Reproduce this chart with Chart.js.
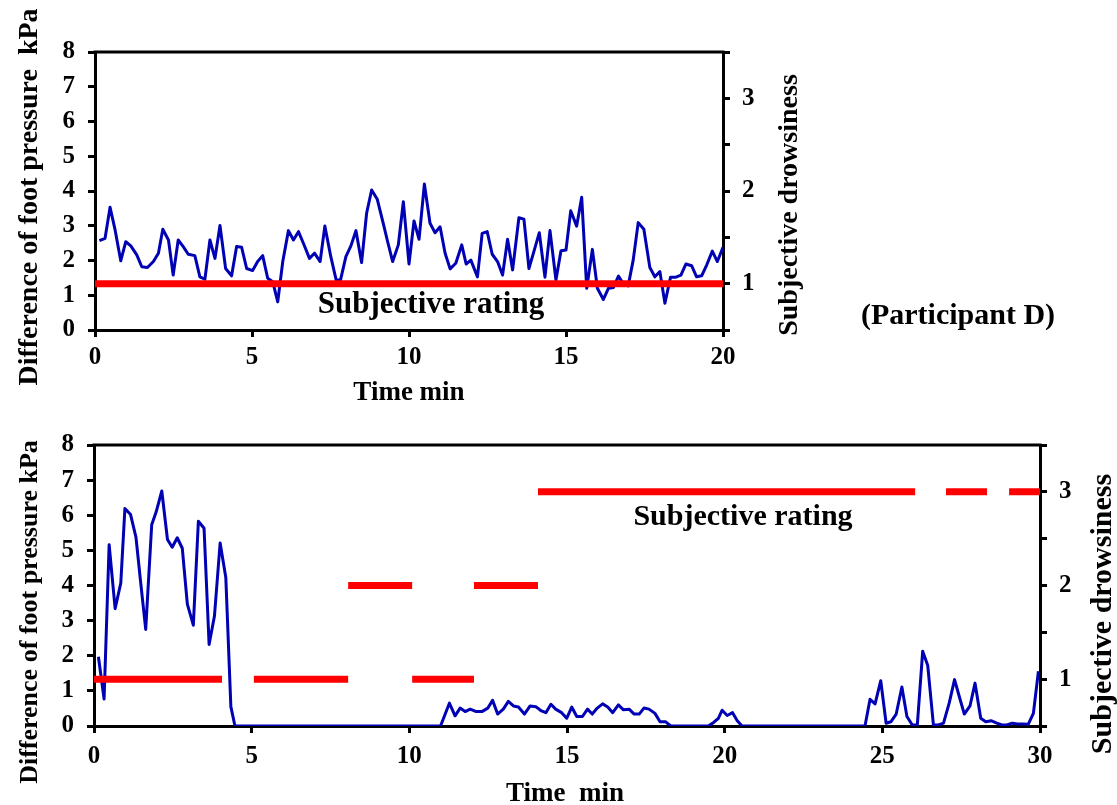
<!DOCTYPE html>
<html>
<head>
<meta charset="utf-8">
<title>Foot pressure and subjective drowsiness (Participant D)</title>
<script src="https://cdn.jsdelivr.net/npm/chart.js@4.4.1/dist/chart.umd.min.js"></script>
<style>
  html, body { margin: 0; padding: 0; background: #ffffff; }
  #wrap { position: relative; width: 1117px; height: 805px; overflow: hidden; }
  canvas { position: absolute; left: 0; }
</style>
</head>
<body>
<div id="wrap">
  <canvas id="upper" width="1117" height="405" style="top:0"></canvas>
  <canvas id="lower" width="1117" height="400" style="top:405px"></canvas>
</div>
<script>
// ---- Upper panel: first 20 min ----
const upperTime = [
  0.14, 0.32, 0.48, 0.64, 0.82, 0.98, 1.14, 1.33, 1.49, 1.67, 1.86, 2.02, 2.16, 2.34, 2.49, 2.65,
  2.81, 2.97, 3.18, 3.34, 3.50, 3.66, 3.82, 3.98, 4.16, 4.35, 4.51, 4.67, 4.83, 5.02, 5.18, 5.34,
  5.50, 5.66, 5.82, 5.98, 6.16, 6.32, 6.48, 6.64, 6.83, 6.99, 7.17, 7.32, 7.51, 7.68, 7.82, 7.99,
  8.15, 8.31, 8.49, 8.65, 8.81, 8.99, 9.18, 9.32, 9.48, 9.66, 9.82, 10.00, 10.16, 10.32, 10.49,
  10.67, 10.83, 10.99, 11.15, 11.31, 11.49, 11.68, 11.82, 11.97, 12.18, 12.33, 12.49, 12.65,
  12.82, 12.98, 13.14, 13.30, 13.50, 13.66, 13.82, 13.99, 14.15, 14.33, 14.49, 14.68, 14.84,
  15.00, 15.15, 15.34, 15.50, 15.66, 15.84, 16.00, 16.19, 16.35, 16.51, 16.67, 16.83, 16.98,
  17.14, 17.30, 17.48, 17.67, 17.83, 17.99, 18.15, 18.33, 18.50, 18.66, 18.82, 19.00, 19.16,
  19.32, 19.48, 19.66, 19.82, 20.00
];
const upperPressure = [
  2.57, 2.64, 3.53, 2.88, 1.99, 2.54, 2.42, 2.16, 1.82, 1.80, 1.97, 2.21, 2.90, 2.59, 1.58, 2.59,
  2.40, 2.18, 2.14, 1.53, 1.46, 2.59, 2.06, 3.01, 1.77, 1.56, 2.40, 2.38, 1.77, 1.71, 1.97, 2.14,
  1.49, 1.39, 0.81, 1.97, 2.86, 2.59, 2.83, 2.49, 2.06, 2.21, 1.97, 2.99, 2.11, 1.44, 1.44, 2.11,
  2.42, 2.86, 1.94, 3.36, 4.03, 3.76, 3.07, 2.54, 1.97, 2.45, 3.69, 1.90, 3.14, 2.61, 4.20,
  3.07, 2.80, 2.97, 2.21, 1.76, 1.92, 2.45, 1.90, 2.01, 1.53, 2.78, 2.83, 2.18,
  1.97, 1.58, 2.61, 1.73, 3.23, 3.19, 1.77, 2.30, 2.80, 1.52, 2.86, 1.44, 2.28,
  2.30, 3.43, 2.99, 3.82, 1.20, 2.32, 1.20, 0.88, 1.20, 1.22, 1.55, 1.32, 1.27,
  2.01, 3.09, 2.90, 1.80, 1.53, 1.68, 0.77, 1.52, 1.52, 1.58, 1.90, 1.85, 1.53,
  1.56, 1.87, 2.27, 1.97, 2.38
];
// [start min, end min, rating]
const upperRating = [[0, 20, 1]];

// ---- Lower panel: 30 min ----
const lowerTime = [
  0.14, 0.32, 0.48, 0.67, 0.85, 0.98, 1.16, 1.33, 1.48, 1.64, 1.83, 1.97, 2.15, 2.33, 2.48, 2.64,
  2.80, 2.96, 3.15, 3.31, 3.49, 3.65, 3.82, 4.00, 4.18, 4.34, 4.47,
  10.99, 11.27, 11.45, 11.61, 11.77, 11.93, 12.12, 12.30, 12.49, 12.64, 12.80, 12.98, 13.14,
  13.30, 13.46, 13.65, 13.83, 14.01, 14.17, 14.33, 14.49, 14.64, 14.83, 14.99, 15.15, 15.31,
  15.49, 15.65, 15.80, 15.96, 16.13, 16.29, 16.45, 16.63, 16.79, 16.97, 17.13, 17.29, 17.44,
  17.60, 17.79, 17.95, 18.13, 18.29,
  19.48, 19.65, 19.80, 19.92, 20.08, 20.25, 20.40, 20.55,
  24.45, 24.61, 24.77, 24.95, 25.12, 25.27, 25.44, 25.62, 25.78, 25.95, 26.11, 26.28, 26.44,
  26.62, 26.78, 26.94, 27.12, 27.29, 27.44, 27.60, 27.78, 27.94, 28.12, 28.28, 28.45, 28.61,
  28.79, 28.95, 29.12, 29.28, 29.45, 29.63, 29.79, 29.95
];
const lowerPressure = [
  1.97, 0.77, 5.16, 3.34, 4.07, 6.19, 6.02, 5.38, 4.09, 2.75, 5.73, 6.09, 6.69, 5.31, 5.09, 5.36,
  5.06, 3.47, 2.87, 5.83, 5.63, 2.32, 3.13, 5.21, 4.23, 0.55, 0,
  0, 0.65, 0.29, 0.51, 0.41, 0.48, 0.41, 0.41, 0.51, 0.73, 0.34, 0.48, 0.70,
  0.57, 0.54, 0.34, 0.57, 0.55, 0.44, 0.38, 0.62, 0.48, 0.38, 0.22, 0.54, 0.27,
  0.27, 0.48, 0.34, 0.51, 0.63, 0.54, 0.38, 0.60, 0.46, 0.48, 0.34, 0.34, 0.51,
  0.48, 0.36, 0.12, 0.12, 0,
  0, 0.10, 0.22, 0.45, 0.30, 0.38, 0.15, 0,
  0, 0.76, 0.63, 1.29, 0.08, 0.12, 0.34, 1.11, 0.27, 0.03, 0.03, 2.13, 1.72,
  0.03, 0.03, 0.08, 0.65, 1.32, 0.84, 0.34, 0.57, 1.22, 0.22, 0.12, 0.15, 0.09,
  0.03, 0.03, 0.08, 0.06, 0.06, 0.05, 0.36, 1.56
];
const lowerRating = [
  [0, 4.06, 1], [5.07, 8.06, 1], [8.06, 10.09, 2], [10.09, 12.05, 1],
  [12.05, 14.08, 2], [14.08, 26.04, 3], [27.02, 28.32, 3], [29.02, 30, 3]
];

const leftTicks = [0, 1, 2, 3, 4, 5, 6, 7, 8];
const rightTickLabels = [1, 2, 3];

// ---- drawing helpers ----
const SERIF = "'Liberation Serif', 'Times New Roman', serif";
const tickFont = { family: SERIF, size: 25, weight: 'bold' };

function toPoints(xs, ys) {
  return xs.map((x, i) => ({ x: x, y: ys[i] }));
}

// rating steps drawn as separate horizontal pieces, broken by null points
function stepPoints(segments) {
  const pts = [];
  segments.forEach(([a, b, v], i) => {
    if (i > 0) pts.push({ x: a, y: null });
    pts.push({ x: a, y: v }, { x: b, y: v });
  });
  return pts;
}

// top edge of the plot frame
const framePlugin = {
  id: 'frameTop',
  beforeDatasetsDraw(chart) {
    const { ctx, chartArea: a } = chart;
    ctx.save();
    ctx.strokeStyle = '#000';
    ctx.lineWidth = 3;
    ctx.beginPath();
    ctx.moveTo(a.left - 1.5, a.top);
    ctx.lineTo(a.right + 1.5, a.top);
    ctx.stroke();
    ctx.restore();
  }
};

// axis titles and captions
const textPlugin = {
  id: 'figureText',
  afterDraw(chart, args, opts) {
    const ctx = chart.ctx;
    (opts.items || []).forEach(it => {
      ctx.save();
      ctx.translate(it.x, it.y);
      if (it.rotate) ctx.rotate(it.rotate);
      ctx.font = 'bold ' + it.size + 'px ' + SERIF;
      ctx.fillStyle = '#000';
      ctx.textAlign = 'center';
      ctx.textBaseline = 'middle';
      ctx.fillText(it.text, 0, 0);
      ctx.restore();
    });
  }
};

function axisCommon() {
  return {
    grid: { drawOnChartArea: false, drawTicks: true, tickLength: 7, lineWidth: 3, color: '#000' },
    border: { display: true, color: '#000', width: 3 }
  };
}

function buildPanel(canvasId, cfg) {
  const xc = axisCommon(), yc = axisCommon(), rc = axisCommon();
  return new Chart(document.getElementById(canvasId), {
    type: 'line',
    data: {
      datasets: [
        {
          label: 'Subjective rating',
          data: stepPoints(cfg.rating),
          yAxisID: 'y1',
          borderColor: '#ff0000',
          borderWidth: 7,
          borderCapStyle: 'butt',
          pointRadius: 0,
          tension: 0,
          spanGaps: false
        },
        {
          label: 'Difference of foot pressure',
          data: toPoints(cfg.time, cfg.pressure),
          yAxisID: 'y',
          borderColor: '#0000b4',
          borderWidth: 3,
          pointRadius: 0,
          tension: 0,
          borderJoinStyle: 'round'
        }
      ]
    },
    options: {
      responsive: false,
      animation: false,
      events: [],
      layout: { padding: { top: cfg.padTop, left: 0, right: cfg.padRight, bottom: 0 } },
      plugins: {
        legend: { display: false },
        tooltip: { enabled: false },
        figureText: { items: cfg.texts }
      },
      scales: {
        x: {
          type: 'linear', position: 'bottom', min: 0, max: cfg.xMax,
          ticks: { stepSize: 5, font: tickFont, color: '#000', padding: cfg.xPad, maxRotation: 0, autoSkip: false },
          grid: xc.grid, border: xc.border,
          afterFit(s) { s.height = cfg.xAxisHeight; }
        },
        y: {
          type: 'linear', position: 'left', min: leftTicks[0], max: leftTicks[leftTicks.length - 1],
          ticks: { stepSize: 1, font: tickFont, color: '#000', padding: 13 },
          grid: yc.grid, border: yc.border,
          afterFit(s) { s.width = cfg.leftWidth; }
        },
        y1: {
          type: 'linear', position: 'right', min: 0.5, max: 3.5,
          ticks: {
            stepSize: 0.5, font: tickFont, color: '#000', padding: 12,
            callback: v => rightTickLabels.includes(Math.round(v)) && Math.abs(v - Math.round(v)) < 1e-6 ? String(Math.round(v)) : ''
          },
          grid: rc.grid, border: rc.border,
          afterFit(s) { s.width = 60; }
        }
      }
    },
    plugins: [framePlugin, textPlugin]
  });
}

buildPanel('upper', {
  time: upperTime, pressure: upperPressure, rating: upperRating,
  xMax: 20, padTop: 52, padRight: 334, leftWidth: 95, xAxisHeight: 75, xPad: 6,
  texts: [
    { text: 'Difference of foot pressure  kPa', x: 30, y: 197, rotate: -Math.PI / 2, size: 28 },
    { text: 'Subjective drowsiness', x: 790, y: 205, rotate: -Math.PI / 2, size: 28 },
    { text: 'Time min', x: 409, y: 393, size: 27 },
    { text: 'Subjective rating', x: 431, y: 305, size: 31 },
    { text: '(Participant D)', x: 958, y: 316, size: 30 }
  ]
});

buildPanel('lower', {
  time: lowerTime, pressure: lowerPressure, rating: lowerRating,
  xMax: 30, padTop: 40, padRight: 17, leftWidth: 94, xAxisHeight: 79, xPad: 9,
  texts: [
    { text: 'Difference of foot pressure kPa', x: 30, y: 207, rotate: -Math.PI / 2, size: 26 },
    { text: 'Subjective drowsiness', x: 1103, y: 209, rotate: -Math.PI / 2, size: 30 },
    { text: 'Time  min', x: 565, y: 389, size: 27 },
    { text: 'Subjective rating', x: 743, y: 112, size: 30 }
  ]
});
</script>
</body>
</html>
